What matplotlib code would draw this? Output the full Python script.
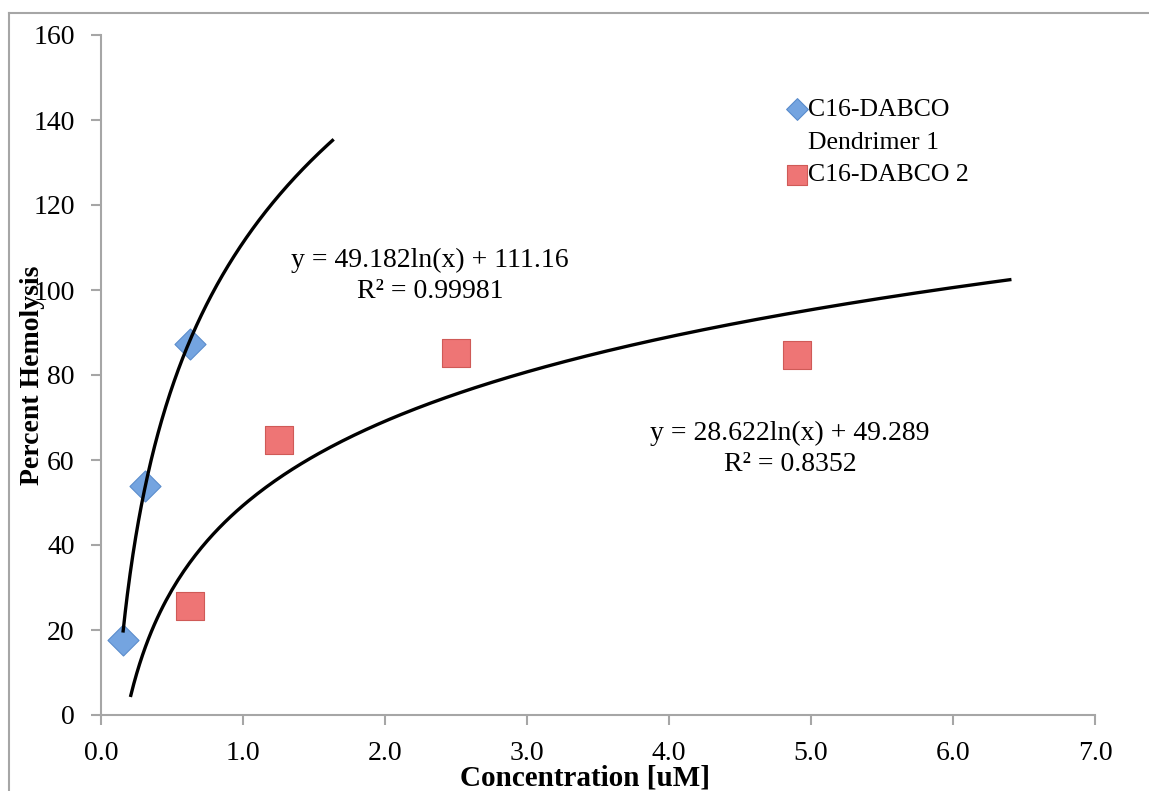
import numpy as np
import matplotlib
matplotlib.use("Agg")
import matplotlib.pyplot as plt
from matplotlib.lines import Line2D

plt.rcParams['font.family'] = ['Liberation Serif', 'DejaVu Serif']

# data
dend_x = [0.156, 0.3125, 0.625]
dend_y = [17.6, 53.9, 87.4]
dabco_x = [0.625, 1.25, 2.5, 4.9]
dabco_y = [25.6, 64.7, 85.1, 84.7]

# log trendlines (coefficients from the chart labels)
fit1 = (49.182, 111.16)
fit1_range = (0.156, 1.63)
fit2 = (28.622, 49.289)
fit2_range = (0.21, 6.4)
fit1_text = ['y = 49.182ln(x) + 111.16', 'R² = 0.99981']
fit2_text = ['y = 28.622ln(x) + 49.289', 'R² = 0.8352']

x_ticks = [0, 1, 2, 3, 4, 5, 6, 7]
y_ticks = [0, 20, 40, 60, 80, 100, 120, 140, 160]

grey = '#a6a6a6'
blue = '#74a4e0'
blue_edge = '#5a8ccc'
red = '#ee7575'
red_edge = '#cf5a57'
W, H = 1149, 791

fig = plt.figure(figsize=(W / 100, H / 100), dpi=100)
ax = fig.add_axes([101 / W, 1 - 715 / H, 994 / W, 680 / H])

# outer chart frame (only left and top edges visible)
fig.add_artist(Line2D([9 / W, 9 / W], [0, 1 - 13 / H], color=grey, lw=1.5))
fig.add_artist(Line2D([9 / W, 1], [1 - 13 / H, 1 - 13 / H], color=grey, lw=1.5))

d = ax.scatter(dend_x, dend_y, marker='D', s=250, c=blue, edgecolors=blue_edge,
               linewidths=0.8, zorder=3)
s = ax.scatter(dabco_x, dabco_y, marker='s', s=400, c=red, edgecolors=red_edge,
               linewidths=0.8, zorder=3)

for (a, b), (lo, hi) in [(fit1, fit1_range), (fit2, fit2_range)]:
    xs = np.linspace(lo, hi, 300)
    ax.plot(xs, a * np.log(xs) + b, color='black', lw=2.4, zorder=4)

for lines, (cx, cy) in [(fit1_text, (430, 260)), (fit2_text, (790, 433))]:
    fig.text(cx / W, 1 - cy / H, lines[0], ha='center', va='center', fontsize=20)
    fig.text(cx / W, 1 - (cy + 32) / H, lines[1], ha='center', va='center', fontsize=20)

blank = Line2D([], [], linestyle='none', marker='none')
ax.legend([d, blank, s], ['C16-DABCO', 'Dendrimer 1', 'C16-DABCO 2'],
          loc='upper left', bbox_to_anchor=(776 / W, 1 - 85 / H),
          bbox_transform=fig.transFigure, frameon=False, fontsize=18.5,
          markerscale=0.7, handlelength=0.6, handletextpad=0.15,
          labelspacing=0.38, borderpad=0)

ax.set_xlim(0, 7)
ax.set_ylim(0, 160)
ax.set_xticks(x_ticks)
ax.set_xticklabels([f'{v:.1f}' for v in x_ticks])
ax.set_yticks(y_ticks)

for side in ['top', 'right']:
    ax.spines[side].set_visible(False)
for side in ['left', 'bottom']:
    ax.spines[side].set_color(grey)
    ax.spines[side].set_linewidth(1.5)
ax.tick_params(direction='out', length=7, width=1.5, color=grey, labelsize=20)
ax.tick_params(axis='y', pad=12)
ax.tick_params(axis='x', pad=12)

ax.set_xlabel('Concentration [uM]', fontsize=21, fontweight='bold', va='center')
ax.set_ylabel('Percent Hemolysis', fontsize=20, fontweight='bold', va='center')
ax.yaxis.set_label_coords((33 - 101) / 994, 0.5)
ax.xaxis.set_label_coords((585 - 101) / 994, (715 - 778) / 680)

fig.savefig('out.png', dpi=100)
